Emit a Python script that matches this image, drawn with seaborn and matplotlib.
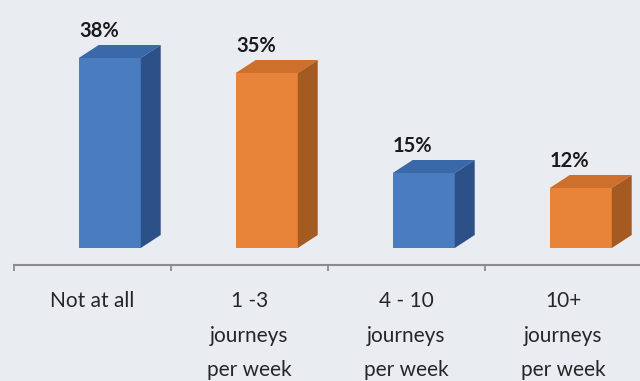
import numpy as np
import pandas as pd
import seaborn as sns
import matplotlib.pyplot as plt
from matplotlib.patches import Polygon

categories = ["Not at all", "1 -3\njourneys\nper week", "4 - 10\njourneys\nper week", "10+\njourneys\nper week"]
values = [38, 35, 15, 12]
labels = ["38%", "35%", "15%", "12%"]

front = ["#4a7cc0", "#e8843a", "#4a7cc0", "#e8843a"]
top = ["#3b68a8", "#cf6f2c", "#3b68a8", "#cf6f2c"]
side = ["#2c5088", "#a55a22", "#2c5088", "#a55a22"]

bg = "#e9edf1"
sns.set_style("white")
plt.rcParams["font.family"] = ["Lato", "DejaVu Sans"]

df = pd.DataFrame({"cat": categories, "val": values})

fig = plt.figure(figsize=(6.4, 3.81), dpi=100, facecolor=bg)
ax = fig.add_axes([14 / 640, 116 / 381, 628 / 640, 265 / 381])
ax.set_facecolor(bg)

sns.barplot(data=df, x="cat", y="val", hue="cat", palette=front, legend=False,
            width=0.395, linewidth=0, saturation=1, ax=ax)

# fake 3d depth
dx, dy = 0.127, 2.6
shift = 0.11
for i, p in enumerate(ax.patches):
    p.set_x(p.get_x() + shift)
    x0 = p.get_x()
    x1 = x0 + p.get_width()
    h = p.get_height()
    ax.add_patch(Polygon([(x0, h), (x1, h), (x1 + dx, h + dy), (x0 + dx, h + dy)],
                         closed=True, facecolor=top[i], edgecolor="none"))
    ax.add_patch(Polygon([(x1, 0), (x1 + dx, dy), (x1 + dx, h + dy), (x1, h)],
                         closed=True, facecolor=side[i], edgecolor="none"))
    ax.text(i + 0.04, h + dy + 0.8, labels[i], ha="center", va="bottom",
            fontsize=14.5, fontweight="bold", color="#1a1a1a")

ax.set_xlim(-0.5, 3.5)
ax.set_ylim(-3.4, 49.6)
ax.set_yticks([])
ax.set_xlabel("")
ax.set_ylabel("")

for s in ["top", "right", "left"]:
    ax.spines[s].set_visible(False)
ax.spines["bottom"].set_color("#8c8c8c")
ax.spines["bottom"].set_linewidth(1.5)

ax.set_xticks([-0.5, 0.5, 1.5, 2.5, 3.5], minor=True)
ax.tick_params(axis="x", which="minor", bottom=True, length=4.5, width=1.3,
               color="#8c8c8c", direction="out")
ax.tick_params(axis="x", which="major", bottom=True, length=0, pad=19,
               labelsize=15, labelcolor="#262626")
for t in ax.get_xticklabels():
    t.set_verticalalignment("top")
    t.set_linespacing(1.9)

fig.savefig("out.png", dpi=100, facecolor=bg)
